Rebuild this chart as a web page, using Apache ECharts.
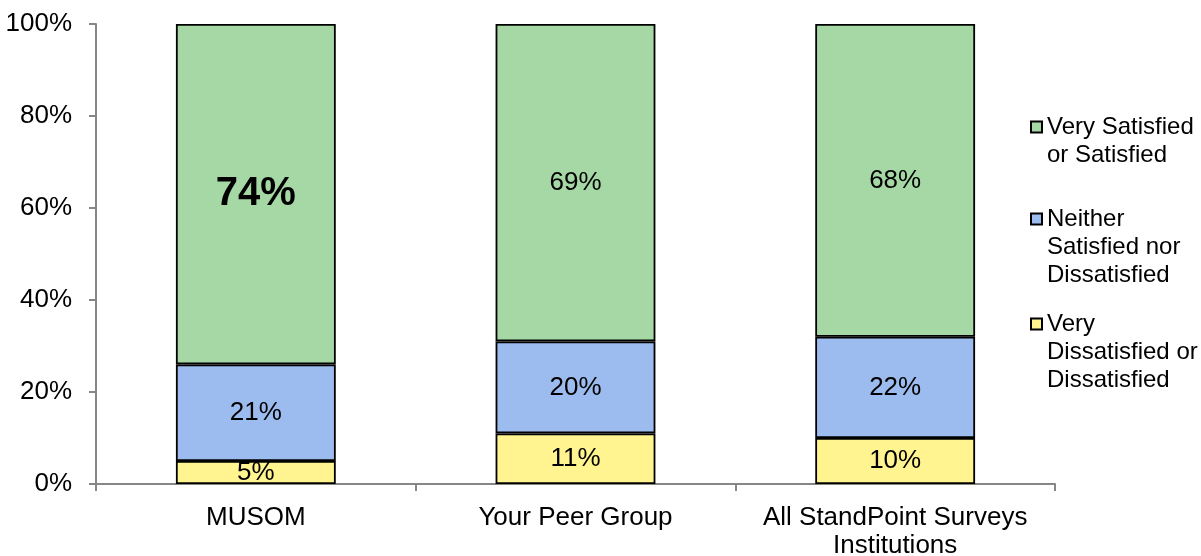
<!DOCTYPE html>
<html>
<head>
<meta charset="utf-8">
<script src="https://cdn.jsdelivr.net/npm/echarts@6/dist/echarts.min.js"></script>
<style>
  html, body { margin: 0; padding: 0; background: #fff; }
  #chart { width: 1201px; height: 556px; }
</style>
</head>
<body>
<div id="chart"></div>
<script>
// categories and values (percent)
var categories = ['MUSOM', 'Your Peer Group', 'All StandPoint Surveys\nInstitutions']
var dissatisfied = [5, 11, 10]
var neither = [21, 20, 22]
var satisfied = [74, 69, 68]
var yTicks = [0, 20, 40, 60, 80, 100]

var seriesNames = [
  'Very\nDissatisfied or\nDissatisfied',
  'Neither\nSatisfied nor\nDissatisfied',
  'Very Satisfied\nor Satisfied'
]

var font = 'Arial, "Liberation Sans", sans-serif'

function bar (name, data, color) {
  return {
    name: name,
    type: 'bar',
    stack: 'total',
    barWidth: '50%',
    data: data,
    itemStyle: { color: color, borderColor: '#000', borderWidth: 1.8 },
    label: {
      show: true,
      position: 'inside',
      formatter: '{c}%',
      color: '#000',
      fontSize: 26,
      fontFamily: font
    }
  }
}

var satisfiedData = satisfied.map(function (v, i) {
  if (i === 0) {
    // highlight own institution
    return { value: v, label: { fontSize: 40, fontWeight: 'bold' } }
  }
  return v
})

// one legend per item so they sit at equal spacing like the original.
// empty lines in front keep the marker level with the first text line
function legendFor (name, top, lines) {
  var pad = new Array(lines).join('\n')
  return {
    data: [name],
    left: 1030,
    top: top,
    orient: 'vertical',
    padding: 0,
    itemWidth: 11,
    itemHeight: 11,
    itemGap: 0,
    icon: 'rect',
    selectedMode: false,
    formatter: function (n) { return pad + n },
    textStyle: {
      color: '#000',
      fontSize: 24,
      fontFamily: font,
      lineHeight: 28
    }
  }
}

var option = {
  animation: false,
  backgroundColor: '#fff',
  grid: { left: 96, right: 146, top: 24, bottom: 72, containLabel: false, outerBoundsMode: 'none' },
  legend: [
    legendFor(seriesNames[2], 127 - 42, 2),
    legendFor(seriesNames[1], 219 - 70, 3),
    legendFor(seriesNames[0], 324 - 70, 3)
  ],
  xAxis: {
    type: 'category',
    data: categories,
    axisLine: { lineStyle: { color: '#868686', width: 2 } },
    axisTick: { show: true, interval: 0, length: 7, lineStyle: { color: '#868686', width: 2 } },
    axisLabel: {
      interval: 0,
      color: '#000',
      fontSize: 26,
      fontFamily: font,
      lineHeight: 28,
      margin: 20
    }
  },
  yAxis: {
    type: 'value',
    min: 0,
    max: 100,
    interval: 20,
    axisLine: { show: true, lineStyle: { color: '#868686', width: 2 } },
    axisTick: { show: true, length: 7, lineStyle: { color: '#868686', width: 2 } },
    splitLine: { show: false },
    axisLabel: {
      color: '#000',
      fontSize: 26,
      fontFamily: font,
      margin: 24,
      formatter: '{value}%'
    }
  },
  series: [
    bar(seriesNames[0], dissatisfied, '#fff48f'),
    bar(seriesNames[1], neither, '#9cbbee'),
    bar(seriesNames[2], satisfiedData, '#a5d8a5')
  ]
}

var chart = echarts.init(document.getElementById('chart'))
chart.setOption(option)
</script>
</body>
</html>
